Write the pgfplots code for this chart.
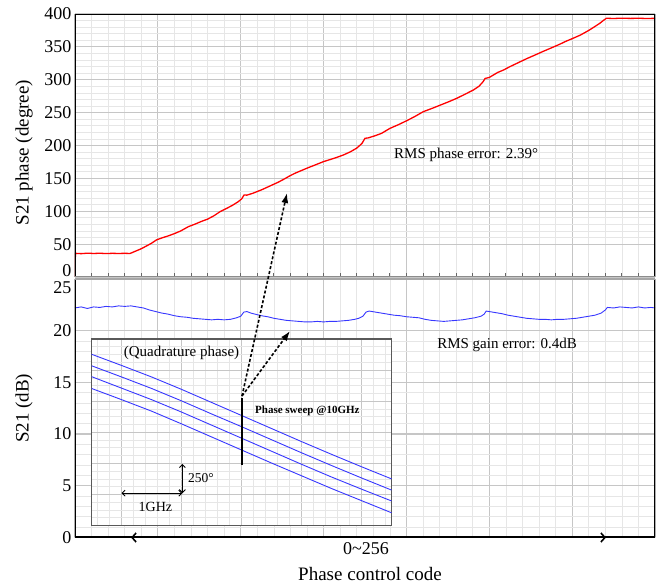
\documentclass[border=0pt]{standalone}
\usepackage{pgfplots}
\pgfplotsset{compat=1.18}
\usepackage{fontspec}
\setmainfont{Liberation Serif}
\usetikzlibrary{arrows.meta}
\definecolor{majg}{RGB}{198,198,198}
\definecolor{ming}{RGB}{230,230,230}
\definecolor{bl}{RGB}{55,55,255}
\pgfplotsset{
  mainax/.style={
    scale only axis, width=580pt,
    xmin=0, xmax=280, xtick={0,40,...,280}, minor x tick num=4,
    xticklabels={},
    grid=both,
    major grid style={color=majg, line width=1.2pt},
    minor grid style={color=ming, line width=0.7pt},
    tick style={draw=none},
    axis line style={draw=none},
    tick label style={font=\fontsize{18}{18}\selectfont},
    /pgf/number format/assume math mode=true,
    ylabel style={font=\fontsize{19}{19}\selectfont},
  }
}
\begin{document}
\begin{tikzpicture}
\path[use as bounding box] (0pt,0pt) rectangle (662pt,587pt);

% ---------------- top axis: phase ----------------
\begin{axis}[mainax,
  at={(75pt,310pt)}, anchor=south west, height=263pt,
  ymin=0, ymax=400, ytick={50,100,...,400}, minor y tick num=4,
  extra y ticks={0}, extra y tick style={yticklabel style={yshift=6pt}, grid=major},
  ylabel={S21 phase (degree)},
  ylabel style={at={(axis description cs:-0.088,0.473)}, anchor=center},
]
\addplot[red, line width=1.3pt] coordinates {
(0,0) (0.2,36) (3,35.5) (6,36.2) (9,35.8) (12,36.1) (15,35.7) (18,36.0) (21,35.8) (24,36.0) (26.6,35.8)
(29,39) (32,43) (35,48) (37,51.5) (39.4,56.5) (42,59.5) (45,62.5) (48,66) (51,70) (54.7,76.5)
(58,80.5) (61,84.5) (64,88) (67,93) (70,99.3) (73,104) (76,109) (78.8,114.5) (80.5,119) (81.6,124.7)
(83,124.5) (86,127.5) (90,132.5) (94.1,138.4) (98,144) (101,149) (103.8,154) (106,157.5) (108.6,161)
(112,165.5) (116,170.5) (119.9,175.4) (123,178.5) (126,181.5) (129.5,185.5) (133,190.5) (136,196)
(138.5,203) (140,211) (141.5,211.5) (145,215) (148,218.5) (152,226) (156,231.5) (160,237.5) (164,244)
(168.1,251.4) (172,256) (176,261) (180,266) (184.3,271.8) (188,277.5) (192.3,284.4) (195,290) (197,297)
(198,302) (200,303.5) (204,311) (207,315) (210,320) (214,326) (218,332) (222,337.5) (225.9,343)
(230,348.5) (234,354) (237,358.5) (240.4,363) (244,368) (248,375) (251,381) (253.4,386) (255,390)
(256.5,393.5) (260,393.2) (264,393.6) (268,393.3) (272,393.5) (276,393.2) (280,393.4)
};
\draw[line width=2.2pt] (rel axis cs:0,0) -- (rel axis cs:0,1) -- (rel axis cs:1,1) -- (rel axis cs:1,0);
\draw[color=black!45, line width=1.5pt] (rel axis cs:0,0) -- (rel axis cs:1,0);
\node[anchor=west, inner sep=0pt, font=\fontsize{15}{15}\selectfont] at (axis cs:154,185.5) {RMS phase error: 2.39°};
\end{axis}

% small tick marks along the bottom of the phase axis
\foreach \i in {1,...,34} {
  \draw[color=black!60, line width=0.8pt] ({75pt+\i*16.5714pt},311pt) -- ++(0pt,2.5pt);
}

% ---------------- bottom axis: gain ----------------
\begin{axis}[mainax,
  at={(75pt,49.5pt)}, anchor=south west, height=258.5pt,
  ymin=0, ymax=25, ytick={0,5,...,20}, minor y tick num=4,
  extra y ticks={25}, extra y tick style={yticklabel style={yshift=-9pt}, grid=major},
  ylabel={S21 (dB)},
  ylabel style={at={(axis description cs:-0.088,0.5)}, anchor=center},
]
\addplot[bl, line width=0.9pt] coordinates {
(0,22.2) (3,22.3) (6,22.15) (9,22.3) (12,22.25) (15,22.35) (18,22.3) (21,22.4) (24,22.35) (27,22.4)
(30,22.3) (33,22.2) (36,22.0) (39,21.85) (42,21.7) (45,21.6) (48,21.45) (51,21.35) (54,21.3) (57,21.2)
(60,21.15) (63,21.1) (66,21.05) (69,21.1) (72,21.05) (75,21.1) (78,21.25) (80,21.4) (81.5,21.8) (83,21.85)
(85,21.7) (87,21.6) (90,21.45) (93,21.35) (96,21.2) (99,21.1) (102,21.0) (105,20.95) (108,20.9) (111,20.85)
(114,20.85) (117,20.9) (120,20.85) (123,20.9) (126,20.9) (129,20.95) (132,21.0) (135,21.1) (137,21.2)
(139,21.4) (140.5,21.8) (142,21.9) (145,21.8) (148,21.7) (151,21.6) (154,21.5) (157,21.45) (160,21.35)
(163,21.3) (166,21.25) (169,21.1) (172,21.0) (175,20.95) (178,20.9) (181,20.95) (184,21.0) (187,21.05)
(190,21.15) (193,21.25) (196,21.4) (197.5,21.6) (198.5,21.9) (200,21.85) (203,21.75) (206,21.65)
(209,21.5) (212,21.4) (215,21.3) (218,21.2) (221,21.15) (224,21.1) (227,21.1) (230,21.05) (233,21.1)
(236,21.1) (239,21.15) (242,21.2) (245,21.3) (248,21.4) (251,21.5) (254,21.7) (256,22.0) (257,22.25)
(260,22.2) (263,22.3) (266,22.25) (269,22.2) (272,22.3) (275,22.2) (278,22.25) (280,22.2)
};
\draw[line width=2.2pt] (rel axis cs:0,1) -- (rel axis cs:0,0) -- (rel axis cs:1,0) -- (rel axis cs:1,1);
\draw[color=black!35, line width=1.8pt] (rel axis cs:0,1) -- (rel axis cs:1,1);
\node[anchor=west, inner sep=0pt, font=\fontsize{15}{15}\selectfont] at (axis cs:174.8,18.6) {RMS gain error: 0.4dB};
\end{axis}

% ---------------- inset ----------------
\begin{axis}[
  scale only axis, width=300pt, height=186.5pt,
  at={(91.5pt,61.5pt)}, anchor=south west,
  xmin=0, xmax=10, ymin=0, ymax=6,
  xtick={1,3,5,7,9}, ytick={1,2,3,4,5},
  minor xtick={0.2,0.6,...,9.9}, minor ytick={0.25,0.5,...,5.9},
  xticklabels={}, yticklabels={},
  grid=both,
  major grid style={color=majg, line width=1.0pt},
  minor grid style={color=ming, line width=0.6pt},
  tick style={draw=none},
  axis background/.style={fill=white},
  axis line style={color=black!65, line width=1.5pt},
]
\addplot[bl, line width=0.9pt] coordinates {(0,5.51) (1,5.15) (2,4.78) (3,4.38) (4,3.96) (5,3.54) (6,3.12) (7,2.70) (8,2.29) (9,1.89) (10,1.50)};
\addplot[bl, line width=0.9pt] coordinates {(0,5.14) (1,4.78) (2,4.41) (3,4.01) (4,3.59) (5,3.18) (6,2.76) (7,2.34) (8,1.93) (9,1.53) (10,1.14)};
\addplot[bl, line width=0.9pt] coordinates {(0,4.79) (1,4.42) (2,4.05) (3,3.65) (4,3.23) (5,2.81) (6,2.39) (7,1.97) (8,1.56) (9,1.17) (10,0.79)};
\addplot[bl, line width=0.9pt] coordinates {(0,4.41) (1,4.05) (2,3.68) (3,3.27) (4,2.85) (5,2.43) (6,2.01) (7,1.60) (8,1.19) (9,0.80) (10,0.41)};
\draw[line width=2.2pt] (axis cs:5.02,4.10) -- (axis cs:5.02,1.95);
\node[font=\fontsize{15}{15}\selectfont] at (axis cs:3.0,5.54) {(Quadrature phase)};
\node[anchor=west, inner sep=0pt, font=\fontsize{11}{11}\bfseries] at (axis cs:5.45,3.69) {Phase sweep @10GHz};
\draw[line width=0.9pt, {Straight Barb[length=3pt,width=6pt]}-{Straight Barb[length=3pt,width=6pt]}] (axis cs:1.0,1.04) -- (axis cs:3.03,1.04);
\draw[line width=0.9pt, {Straight Barb[length=3pt,width=6pt]}-{Straight Barb[length=3pt,width=6pt]}] (axis cs:3.03,1.04) -- (axis cs:3.03,1.98);
\node[anchor=west, inner sep=0pt, font=\fontsize{13.5}{13.5}\selectfont] at (axis cs:3.21,1.54) {250°};
\node[font=\fontsize{14}{14}\selectfont] at (axis cs:2.13,0.6) {1GHz};
\end{axis}

% ---------------- annotations ----------------
\draw[line width=1.6pt, dash pattern=on 3pt off 2pt, -{Latex[length=10pt,width=7pt]}] (242pt,191pt) -- (287pt,394pt);
\draw[line width=1.6pt, dash pattern=on 3pt off 2pt, -{Latex[length=10pt,width=7pt]}] (242pt,191pt) -- (290pt,256pt);
\draw[line width=1.6pt, {Straight Barb[length=4pt,width=9pt]}-{Straight Barb[length=4pt,width=9pt]}] (131pt,49.5pt) -- (606pt,49.5pt);
\node[font=\fontsize{18}{18}\selectfont] at (366pt,38pt) {0\textasciitilde 256};
\node[font=\fontsize{19}{19}\selectfont] at (370pt,13pt) {Phase control code};
\end{tikzpicture}
\end{document}
